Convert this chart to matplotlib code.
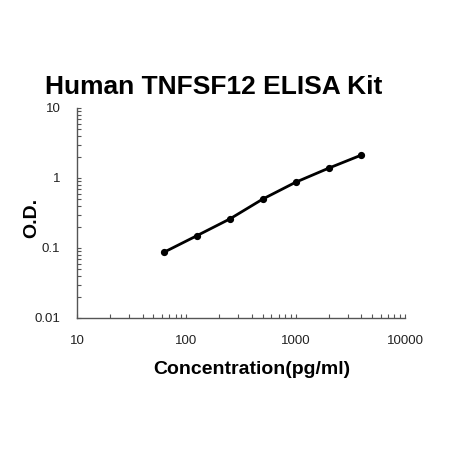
import numpy as np
import matplotlib.pyplot as plt
from matplotlib.ticker import LogLocator, FixedLocator, NullFormatter

plt.rcParams['font.family'] = ['Liberation Sans', 'DejaVu Sans']

# standard curve values
conc = [62.5, 125, 250, 500, 1000, 2000, 4000]
od = [0.087, 0.150, 0.26, 0.50, 0.87, 1.38, 2.13]
x_ticks = [10, 100, 1000, 10000]
y_ticks = [0.01, 0.1, 1, 10]

fig = plt.figure(figsize=(4.51, 4.5), dpi=100)
ax = fig.add_axes([77 / 451, 1 - 318 / 450, (405 - 77) / 451, (318 - 108) / 450])

ax.plot(conc, od, color='black', lw=2.0, marker='o', ms=4.2)

ax.set_xscale('log')
ax.set_yscale('log')
ax.set_xlim(10, 10000)
ax.set_ylim(0.01, 10)

ax.xaxis.set_major_locator(FixedLocator(x_ticks))
ax.yaxis.set_major_locator(FixedLocator(y_ticks))
ax.set_xticklabels([str(v) for v in x_ticks])
ax.set_yticklabels(['0.01', '0.1', '1', '10'])
ax.xaxis.set_minor_locator(LogLocator(base=10, subs=np.arange(2, 10)))
ax.yaxis.set_minor_locator(LogLocator(base=10, subs=np.arange(2, 10)))
ax.xaxis.set_minor_formatter(NullFormatter())
ax.yaxis.set_minor_formatter(NullFormatter())

ax.tick_params(which='major', direction='in', length=3, width=0.8, color='#555555',
               labelsize=9.5, labelcolor='#222222', pad=12)
ax.tick_params(which='minor', direction='in', length=3, width=0.8, color='#555555')

for s in ['top', 'right']:
    ax.spines[s].set_visible(False)
for s in ['left', 'bottom']:
    ax.spines[s].set_color('#555555')
    ax.spines[s].set_linewidth(1.0)

fig.text(214 / 451, 1 - 87 / 450, 'Human TNFSF12 ELISA Kit', fontsize=19,
         fontweight='bold', ha='center', va='center')
fig.text(252 / 451, 1 - 370 / 450, 'Concentration(pg/ml)', fontsize=14,
         fontweight='bold', ha='center', va='center')
fig.text(32 / 451, 1 - 218 / 450, 'O.D.', fontsize=14, fontweight='bold',
         ha='center', va='center', rotation=90)

fig.savefig('out.png', dpi=100)
